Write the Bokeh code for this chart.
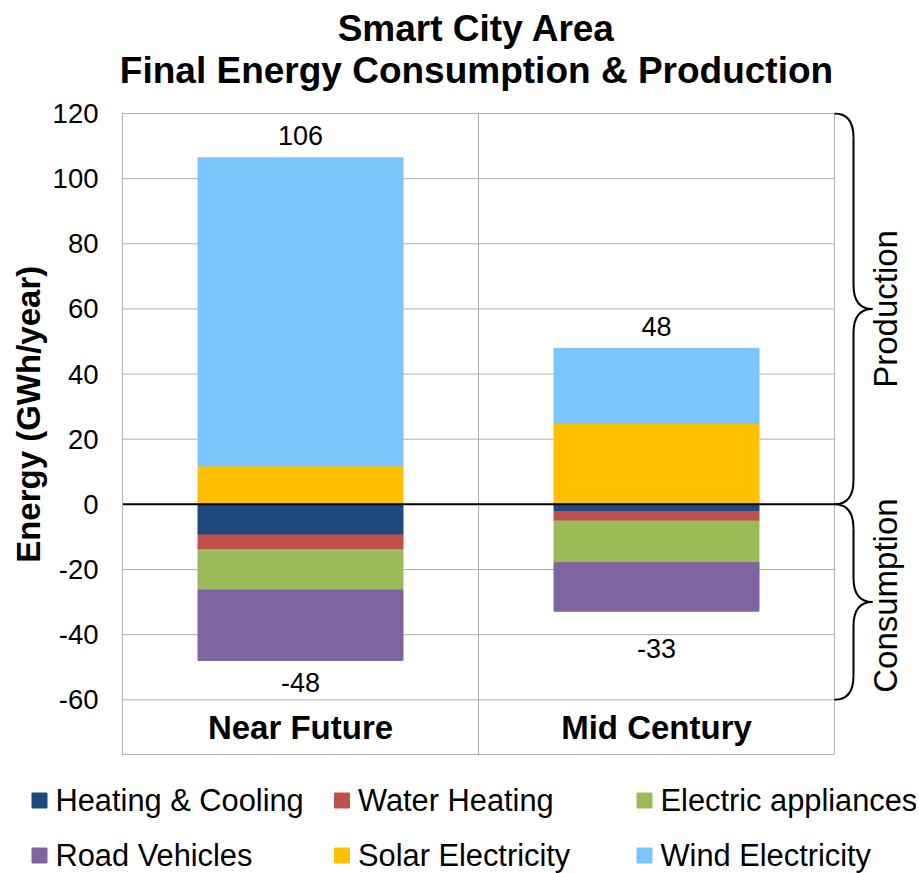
import numpy as np
from bokeh.plotting import figure
from bokeh.models import Range1d, FixedTicker, ColumnDataSource, PrintfTickFormatter
from bokeh.layouts import column, row
from bokeh.core.properties import value
from bokeh.embed import file_html
from bokeh.resources import INLINE

# ---------------- data ----------------
categories = ["Near Future", "Mid Century"]
heating_cooling = [9.4, 2.2]
water_heating = [4.5, 2.9]
electric_appliances = [12.4, 12.8]
road_vehicles = [21.6, 14.9]
solar_electricity = [11.8, 25.0]
wind_electricity = [94.6, 22.9]

series_names = ["Heating & Cooling", "Water Heating", "Electric appliances",
                "Road Vehicles", "Solar Electricity", "Wind Electricity"]
series_colors = ["#1F497D", "#C0504D", "#9BBB59", "#8064A2", "#FFC000", "#7DC5FD"]
y_ticks = [-60, -40, -20, 0, 20, 40, 60, 80, 100, 120]
title_lines = ["Smart City Area", "Final Energy Consumption & Production"]
y_label = "Energy (GWh/year)"
brace_labels = ["Production", "Consumption"]

# ---------------- layout constants ----------------
FONT = "Liberation Sans"
W = 916
YLAB_W = 48
MAIN_W = W - YLAB_W
TITLE_H = 91
LEFT, TOP, BOTTOM = 74, 21, 5
MAIN_H = TOP + 643 + BOTTOM
LEG_H = 113
PX_PER_Y = 3.257
PX_PER_X = 356.0
Y_TOP = max(y_ticks) + 1 / PX_PER_Y
Y_BOT = -77.1
Y_FLOOR = -76.8
X_END = (MAIN_W - LEFT) / PX_PER_X
BAR_W = 205 / PX_PER_X
GRID_COLOR = "#B0B0B0"

xs = [0.5 + i for i in range(len(categories))]

# ---------------- main chart ----------------
p = figure(width=MAIN_W, height=MAIN_H, x_range=Range1d(0, X_END),
           y_range=Range1d(Y_BOT, Y_TOP), x_axis_type=None,
           output_backend="svg", toolbar_location=None,
           min_border_left=LEFT, min_border_right=0,
           min_border_top=TOP, min_border_bottom=BOTTOM)
p.outline_line_color = None
p.ygrid.grid_line_color = None
p.background_fill_color = "white"
p.border_fill_color = "white"

ax = p.yaxis[0]
ax.ticker = FixedTicker(ticks=y_ticks, minor_ticks=[])
ax.formatter = PrintfTickFormatter(format="%d")
ax.major_tick_line_color = None
ax.minor_tick_line_color = None
ax.major_tick_out = 0
ax.major_tick_in = 0
ax.axis_line_color = GRID_COLOR
ax.axis_line_width = 1
ax.major_label_standoff = 24
ax.major_label_text_font = FONT
ax.major_label_text_font_size = "27.5px"
ax.major_label_text_color = "black"

n_cat = len(categories)
# horizontal grid lines (zero line drawn separately)
grid_vals = [t for t in y_ticks if t != 0]
p.segment(x0=[0] * len(grid_vals), x1=[n_cat] * len(grid_vals), y0=grid_vals, y1=grid_vals,
          line_color=GRID_COLOR, line_width=1)
# category separators and right border
vx = list(range(1, n_cat + 1))
p.segment(x0=vx, x1=vx, y0=[Y_FLOOR] * len(vx), y1=[max(y_ticks)] * len(vx),
          line_color=GRID_COLOR, line_width=1)
# bottom border
p.segment(x0=[0], x1=[n_cat], y0=[Y_FLOOR], y1=[Y_FLOOR], line_color=GRID_COLOR, line_width=1)

src = ColumnDataSource(dict(
    x=xs,
    solar=solar_electricity,
    wind=wind_electricity,
    hc=[-v for v in heating_cooling],
    wh=[-v for v in water_heating],
    ea=[-v for v in electric_appliances],
    rv=[-v for v in road_vehicles],
))
p.vbar_stack(["solar", "wind"], x="x", width=BAR_W, color=series_colors[4:6], source=src)
p.vbar_stack(["hc", "wh", "ea", "rv"], x="x", width=BAR_W, color=series_colors[0:4], source=src)

# zero line
p.segment(x0=[0], x1=[n_cat], y0=[0], y1=[0], line_color="black", line_width=2)

# total labels
pos_tot = np.array(solar_electricity) + np.array(wind_electricity)
neg_tot = -(np.array(heating_cooling) + np.array(water_heating) +
            np.array(electric_appliances) + np.array(road_vehicles))
neg_label_offsets = [22, 37]
lab_src = ColumnDataSource(dict(
    x=xs + xs,
    y=list(pos_tot) + list(neg_tot),
    t=[f"{int(round(v))}" for v in pos_tot] + [f"{int(round(v))}" for v in neg_tot],
    off=[-22] * n_cat + neg_label_offsets,
))
p.text(x="x", y="y", text="t", y_offset="off", source=lab_src,
       text_font=value(FONT), text_font_size="27px", text_align="center",
       text_baseline="middle", text_color="black")

# category labels inside the frame
p.text(x=xs, y=[(min(y_ticks) + Y_FLOOR) / 2] * n_cat, text=categories,
       text_font=value(FONT), text_font_size="33px", text_font_style="bold",
       text_align="center", text_baseline="middle", text_color="black")

# braces on the right
def brace(lo, hi, mid, x0, a, r):
    q = dict(x0=[], y0=[], x1=[], y1=[], cx=[], cy=[])
    def add(xa, ya, xb, yb, cxx, cyy):
        q["x0"].append(xa); q["y0"].append(ya)
        q["x1"].append(xb); q["y1"].append(yb)
        q["cx"].append(cxx); q["cy"].append(cyy)
    add(x0, hi, x0 + a, hi - r, x0 + a, hi)
    add(x0 + a, mid + r, x0 + 2 * a, mid, x0 + a, mid)
    add(x0 + 2 * a, mid, x0 + a, mid - r, x0 + a, mid)
    add(x0 + a, lo + r, x0, lo, x0 + a, lo)
    segs = dict(x0=[x0 + a, x0 + a], y0=[hi - r, mid - r],
                x1=[x0 + a, x0 + a], y1=[mid + r, lo + r])
    return q, segs

BR_A = 19 / PX_PER_X
BR_R = 24 / PX_PER_Y
ranges = [(0, max(y_ticks)), (min(y_ticks), 0)]
for lo, hi in ranges:
    q, s = brace(lo, hi, (lo + hi) / 2, n_cat, BR_A, BR_R)
    p.quadratic(source=ColumnDataSource(q), x0="x0", y0="y0", x1="x1", y1="y1",
                cx="cx", cy="cy", line_color="black", line_width=2)
    p.segment(source=ColumnDataSource(s), x0="x0", y0="y0", x1="x1", y1="y1",
              line_color="black", line_width=2)

p.text(x=[n_cat + 51 / PX_PER_X] * 2, y=[60, -28], text=brace_labels,
       angle=np.pi / 2, text_font=value(FONT), text_font_size="33px",
       text_align="center", text_baseline="middle", text_color="black")

# ---------------- y label ----------------
yl = figure(width=YLAB_W, height=MAIN_H, x_range=Range1d(0, YLAB_W),
            y_range=Range1d(0, MAIN_H), x_axis_type=None, y_axis_type=None,
            output_backend="svg", toolbar_location=None, min_border=0)
yl.outline_line_color = None
yl.text(x=[28], y=[MAIN_H - (405 - TITLE_H)], text=[y_label], angle=np.pi / 2,
        text_font=value(FONT), text_font_size="33px", text_font_style="bold",
        text_align="center", text_baseline="middle", text_color="black")

# ---------------- title ----------------
tf = figure(width=W, height=TITLE_H, x_range=Range1d(0, W), y_range=Range1d(0, TITLE_H),
            x_axis_type=None, y_axis_type=None, output_backend="svg",
            toolbar_location=None, min_border=0)
tf.outline_line_color = None
tf.text(x=[476, 476], y=[TITLE_H - 28, TITLE_H - 70], text=title_lines,
        text_font=value(FONT), text_font_size="37px", text_font_style="bold",
        text_align="center", text_baseline="middle", text_color="black")

# ---------------- legend ----------------
lf = figure(width=W, height=LEG_H, x_range=Range1d(0, W), y_range=Range1d(0, LEG_H),
            x_axis_type=None, y_axis_type=None, output_backend="svg",
            toolbar_location=None, min_border=0)
lf.outline_line_color = None
COL_W = 302.5
row_y = [LEG_H - 40, LEG_H - 95]
sw_x = [39 + (i % 3) * COL_W for i in range(len(series_names))]
tx_x = [55 + (i % 3) * COL_W for i in range(len(series_names))]
ly = [row_y[i // 3] for i in range(len(series_names))]
lf.scatter(x=sw_x, y=ly, marker="square", size=15, fill_color=series_colors,
           line_color=series_colors)
lf.text(x=tx_x, y=ly, text=series_names, text_font=value(FONT), text_font_size="30.8px",
        text_align="left", text_baseline="middle", text_color="black")

layout = column(tf, row(yl, p), lf)
open("out.html", "w").write(file_html(layout, INLINE))
